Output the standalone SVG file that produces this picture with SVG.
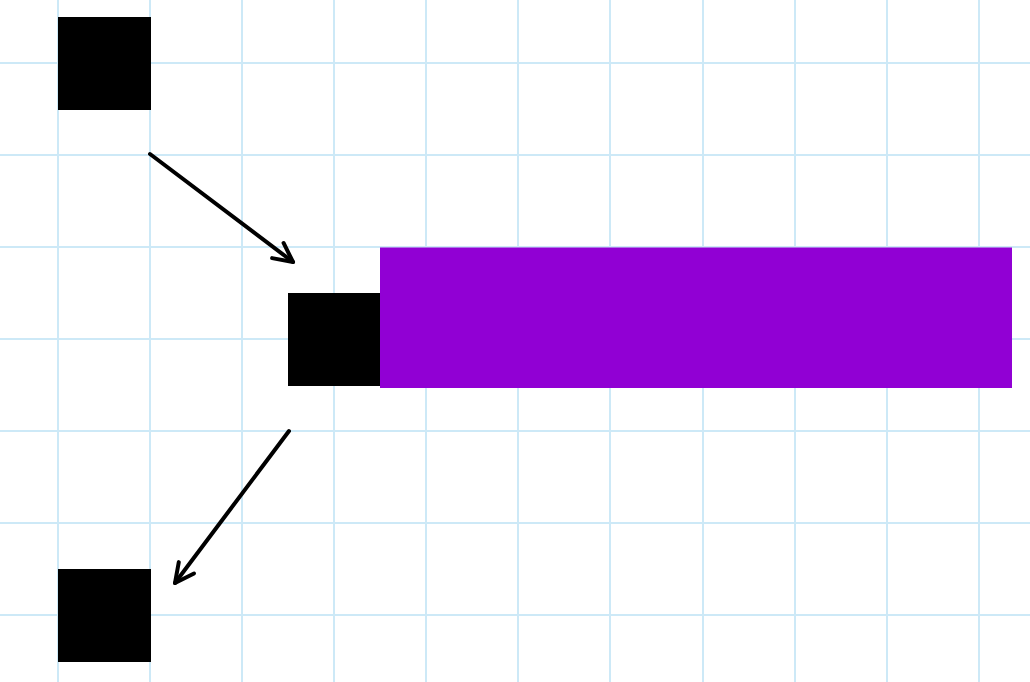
<svg xmlns="http://www.w3.org/2000/svg" width="1030" height="682" viewBox="0 0 1030 682">
<defs>
<style>
.grid line{stroke:#cde9f7;stroke-width:2}
.blk{fill:#000}
.conn path{fill:none;stroke:#000;stroke-width:4;stroke-linecap:round;stroke-linejoin:round}
</style>
<marker id="ah" markerUnits="userSpaceOnUse" markerWidth="40" markerHeight="40" viewBox="-30 -20 40 40" refX="0" refY="0" orient="auto">
<path d="M -19,-9.5 L 0,0 L -19,9.5" fill="none" stroke="#000" stroke-width="4" stroke-linecap="round" stroke-linejoin="round"/>
</marker>
</defs>
<rect width="1030" height="682" fill="#fff"/>
<g class="grid">
<line x1="58" y1="0" x2="58" y2="682"/>
<line x1="150" y1="0" x2="150" y2="682"/>
<line x1="242" y1="0" x2="242" y2="682"/>
<line x1="334" y1="0" x2="334" y2="682"/>
<line x1="426" y1="0" x2="426" y2="682"/>
<line x1="518" y1="0" x2="518" y2="682"/>
<line x1="610" y1="0" x2="610" y2="682"/>
<line x1="703" y1="0" x2="703" y2="682"/>
<line x1="795" y1="0" x2="795" y2="682"/>
<line x1="887" y1="0" x2="887" y2="682"/>
<line x1="979" y1="0" x2="979" y2="682"/>
<line x1="0" y1="63" x2="1030" y2="63"/>
<line x1="0" y1="155" x2="1030" y2="155"/>
<line x1="0" y1="247" x2="1030" y2="247"/>
<line x1="0" y1="339" x2="1030" y2="339"/>
<line x1="0" y1="431" x2="1030" y2="431"/>
<line x1="0" y1="523" x2="1030" y2="523"/>
<line x1="0" y1="615" x2="1030" y2="615"/>
</g>
<g id="node-a"><rect class="blk" x="58" y="17" width="93" height="93"/></g>
<g id="node-b"><rect class="blk" x="288" y="293" width="93" height="93"/></g>
<g id="node-c"><rect class="blk" x="58" y="569" width="93" height="93"/></g>
<g id="bar"><rect x="380" y="247.5" width="632" height="140.5" fill="#9100d4"/></g>
<g class="conn">
<path d="M150,154 L293,262" marker-end="url(#ah)"/>
<path d="M289,431 L175,583" marker-end="url(#ah)"/>
</g>
</svg>
